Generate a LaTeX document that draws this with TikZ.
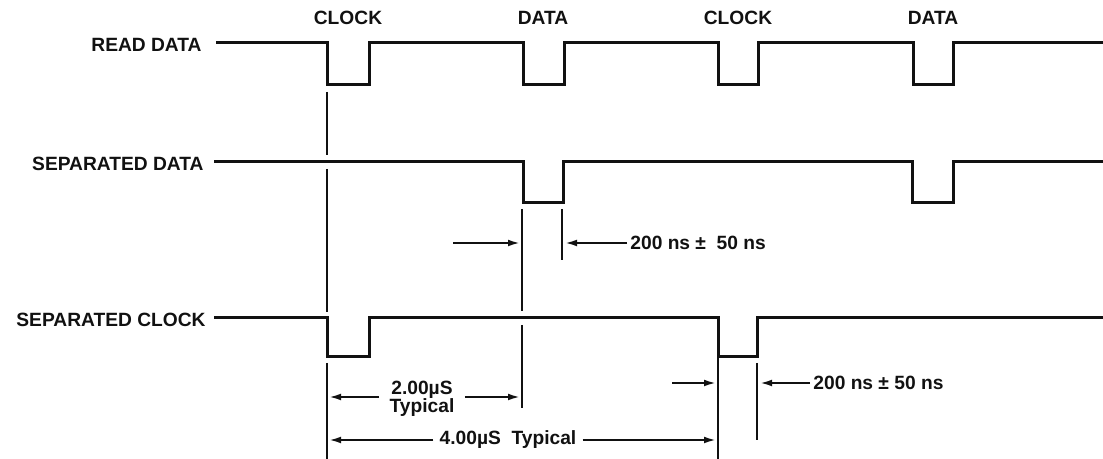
\documentclass[tikz,border=0pt]{standalone}
\usepackage{fontspec}
\setmainfont{Liberation Sans}
\usepackage{tikz}
\usetikzlibrary{arrows.meta,positioning}
\definecolor{tdink}{HTML}{111111}
\newcommand{\tdfont}{\fontsize{9.6}{10}\selectfont\bfseries}
\tikzset{
  signame/.style={anchor=east,inner sep=0pt,font=\tdfont,text=tdink},
  slotname/.style={inner sep=0pt,font=\tdfont,text=tdink},
  note/.style={inner sep=2pt,font=\tdfont,text=tdink,align=center},
  wave/.style={draw=tdink,line width=1.5pt,line join=miter},
  refline/.style={draw=tdink,line width=1.2pt},
  dim/.style={-{Latex[length=6pt,width=3.4pt]},draw=tdink,line width=1pt},
}

\begin{document}
\begin{tikzpicture}[x=0.5pt,y=-0.5pt]
  \useasboundingbox (0,0) rectangle (1103,459);
  % signal names
  \node[signame] (rd) at (202,45) {READ DATA};
  \node[signame] (sd) at (204,164) {SEPARATED DATA};
  \node[signame] (sc) at (206,320) {SEPARATED CLOCK};
  % window names
  \node[slotname] (w1) at (348,18) {CLOCK};
  \node[slotname] (w2) at (543,18) {DATA};
  \node[slotname] (w3) at (738,18) {CLOCK};
  \node[slotname] (w4) at (933,18) {DATA};
  % waveforms
  \draw[wave] (216,43) -| (327,85) -| (369,43) -| (523,85) -| (564,43)
    -| (718,85) -| (758,43) -| (913,85) -| (953,43) -- (1103,43);
  \draw[wave] (214,162) -| (523,203) -| (563,162) -| (912,203) -| (953,162) -- (1103,162);
  \draw[wave] (214,318) -| (327,357) -| (369,318) -| (718,357) -| (757,318) -- (1103,318);
  % reference edges
  \draw[refline] (327,92) -- (327,155) (327,169) -- (327,312) (327,363) -- (327,459);
  \draw[refline] (522,209) -- (522,311) (522,325) -- (522,408);
  \draw[refline] (562,209) -- (562,260);
  \draw[refline] (718,357) -- (718,459);
  \draw[refline] (757,363) -- (757,440);
  % arrow ends
  \coordinate (dL) at (520,243);
  \coordinate (dR) at (565,243);
  \coordinate (cL) at (716,383);
  \coordinate (cR) at (760,383);
  \coordinate (p0) at (329,397);
  \coordinate (p2) at (520,397);
  \coordinate (q0) at (329,440);
  \coordinate (q4) at (716,440);
  \coordinate (dT) at (453,243);
  \coordinate (cT) at (672,383);
  % data width
  \node[note,anchor=west,inner sep=1.5pt] (dw) at (627,243) {200 ns ±\ \ 50 ns};
  \draw[dim] (dT) -- (dL);
  \draw[dim] (dw.west) -- (dR);
  % clock width
  \node[note,anchor=west,inner sep=1.5pt] (cw) at (810,383) {200 ns ± 50 ns};
  \draw[dim] (cT) -- (cL);
  \draw[dim] (cw.west) -- (cR);
  % periods
  \node[note,inner xsep=5pt] (t2) at (422,399) {2.00µS\\[-1pt]Typical};
  \draw[dim] (t2.west |- p0) -- (p0);
  \draw[dim] (t2.east |- p2) -- (p2);
  \node[note,inner xsep=3pt] (t4) at (508,440) {4.00µS\ \ Typical};
  \draw[dim] (t4.west) -- (q0);
  \draw[dim] (t4.east) -- (q4);
\end{tikzpicture}
\end{document}
